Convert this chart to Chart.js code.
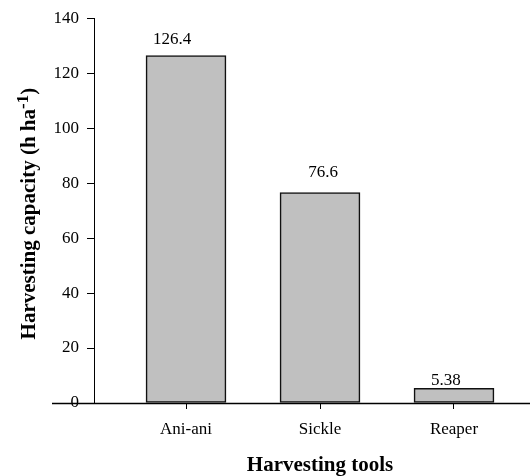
<!DOCTYPE html>
<html>
<head>
<meta charset="utf-8">
<script src="https://cdn.jsdelivr.net/npm/chart.js@4/dist/chart.umd.min.js"></script>
<style>
  html, body { margin: 0; padding: 0; width: 530px; height: 476px; overflow: hidden; background: #fff; }
  canvas { display: block; }
</style>
</head>
<body>
<canvas id="harvestChart" width="546" height="476"></canvas>
<script>
// Données
const categories = ["Ani-ani", "Sickle", "Reaper"];
const capacityValues = [126.4, 76.6, 5.38];
const yTicks = [0, 20, 40, 60, 80, 100, 120, 140];

const yTitleMain = "Harvesting capacity (h ha";
const yTitleSup = "-1";
const yTitleEnd = ")";
const xTitle = "Harvesting tools";

const serif = "'Liberation Serif', 'Times New Roman', serif";
Chart.defaults.font.family = serif;
Chart.defaults.color = "#000";

// Étiquettes de valeur au-dessus des barres
const valueLabels = {
  id: "valueLabels",
  afterDatasetsDraw(chart, args, opts) {
    const ctx = chart.ctx;
    const meta = chart.getDatasetMeta(0);
    ctx.save();
    ctx.font = "17px " + serif;
    ctx.fillStyle = "#000";
    ctx.textAlign = "center";
    ctx.textBaseline = "alphabetic";
    meta.data.forEach((bar, i) => {
      ctx.fillText(String(capacityValues[i]), bar.x + opts.dx[i], bar.y + opts.dy[i]);
    });
    ctx.restore();
  },
};

// Axe X prolongé à gauche + titre Y avec exposant
const axisExtras = {
  id: "axisExtras",
  afterDraw(chart) {
    const ctx = chart.ctx;
    const y0 = Math.round(chart.scales.y.getPixelForValue(0)) + 0.5;
    ctx.save();
    ctx.strokeStyle = "#000";
    ctx.lineWidth = 1.4;
    ctx.beginPath();
    ctx.moveTo(52, y0);
    ctx.lineTo(chart.width, y0);
    ctx.stroke();

    // titre vertical
    const mainFont = "bold 21px " + serif;
    const supFont = "bold 17px " + serif;
    ctx.font = mainFont;
    const w1 = ctx.measureText(yTitleMain).width;
    const w3 = ctx.measureText(yTitleEnd).width;
    ctx.font = supFont;
    const w2 = ctx.measureText(yTitleSup).width;
    const total = w1 + w2 + w3;
    const area = chart.chartArea;
    const cy = (area.top + area.bottom) / 2 + 3;
    ctx.translate(35, cy + total / 2);
    ctx.rotate(-Math.PI / 2);
    ctx.fillStyle = "#000";
    ctx.textAlign = "left";
    ctx.textBaseline = "alphabetic";
    ctx.font = mainFont;
    ctx.fillText(yTitleMain, 0, 0);
    ctx.font = supFont;
    ctx.fillText(yTitleSup, w1, -7);
    ctx.font = mainFont;
    ctx.fillText(yTitleEnd, w1 + w2, 0);
    ctx.restore();
  },
};

const ctx = document.getElementById("harvestChart").getContext("2d");

const config = {
  type: "bar",
  data: {
    datasets: [
      {
        data: categories.map((c, i) => ({ x: i + 1, y: capacityValues[i] })),
        backgroundColor: "#c0c0c0",
        borderColor: "#111",
        borderWidth: 1.6,
        borderSkipped: false,
        barThickness: 80,
      },
    ],
  },
  options: {
    responsive: false,
    animation: false,
    layout: { padding: { top: 17, left: 0, right: 0, bottom: 0 } },
    plugins: {
      legend: { display: false },
      tooltip: { enabled: false },
      valueLabels: { dx: [-14, 3, -8], dy: [-12, -15, -3] },
    },
    scales: {
      x: {
        type: "linear",
        offset: false,
        min: 0.3134,
        max: 3.6866,
        afterFit: (scale) => { scale.height = 73; },
        border: { display: false },
        grid: { offset: false, drawOnChartArea: false, drawTicks: true, tickLength: 6, color: "#000" },
        ticks: {
          stepSize: 1,
          includeBounds: false,
          padding: 10,
          font: { size: 17 },
          color: "#000",
          callback: (v) => categories[v - 1] ?? "",
        },
        title: {
          display: true,
          text: xTitle,
          font: { size: 21, weight: "bold", lineHeight: 1 },
          padding: { top: 0, bottom: 0 },
          color: "#000",
        },
      },
      y: {
        min: 0,
        max: 140,
        afterFit: (scale) => { scale.width = 94; },
        afterBuildTicks: (scale) => { scale.ticks = yTicks.map((v) => ({ value: v })); },
        border: { display: true, color: "#000", width: 1 },
        grid: { drawOnChartArea: false, drawTicks: true, tickLength: 7, color: "#000" },
        ticks: { padding: 8, font: { size: 17 }, color: "#000" },
        title: { display: false },
      },
    },
  },
  plugins: [valueLabels, axisExtras],
};

const harvestChart = new Chart(ctx, config);
</script>
</body>
</html>
